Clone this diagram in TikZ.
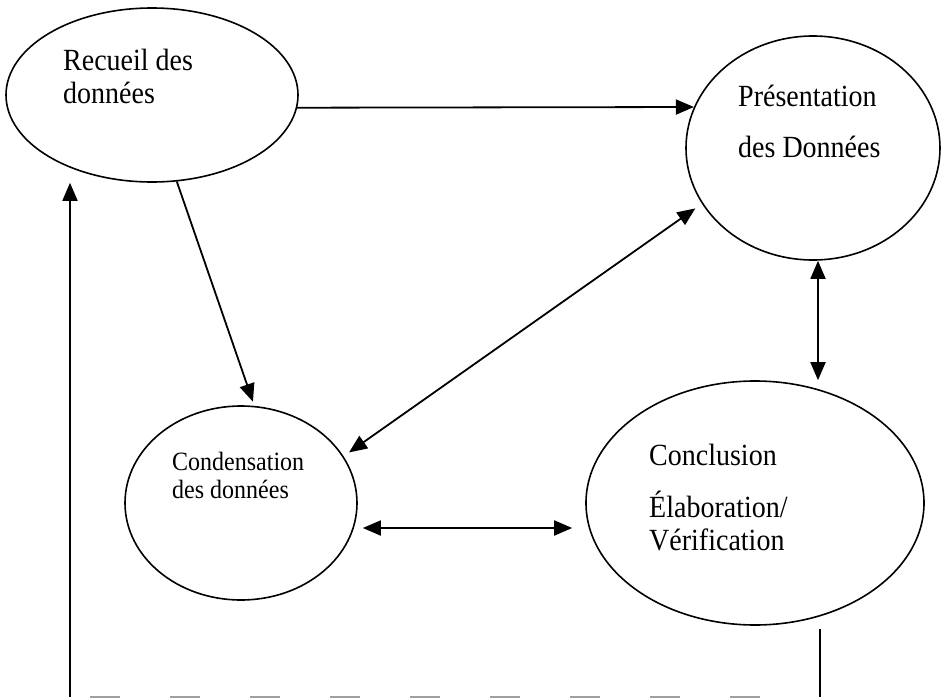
\documentclass[tikz,border=0pt]{standalone}
\usepackage{fontspec}
\setmainfont{Liberation Serif}
\usetikzlibrary{shapes.geometric,arrows.meta}
\newcommand{\tallt}[1]{\scalebox{1}[1.1]{#1}}
\tikzset{
  bubble/.style={ellipse, draw, line width=1.6pt, inner sep=0pt},
  txt/.style={anchor=base west, inner sep=0pt, font=\fontsize{28}{33}\selectfont},
  smalltxt/.style={anchor=base west, inner sep=0pt, font=\fontsize{24}{28}\selectfont},
  arr/.style={line width=1.8pt, -{Triangle[length=18pt,width=15pt]}},
  darr/.style={line width=1.8pt, {Triangle[length=18pt,width=15pt]}-{Triangle[length=18pt,width=15pt]}},
  plain/.style={line width=1.8pt},
  brokenline/.style={line width=2.2pt, gray!75, dash pattern=on 30pt off 50pt}
}
\begin{document}
\begin{tikzpicture}[x=1pt,y=-1pt]
\useasboundingbox (0,0) rectangle (943,699);
% ellipses
\node[bubble, minimum width=292pt, minimum height=174pt] (rec) at (152,95) {};
\node[bubble, minimum width=254pt, minimum height=224pt] (pres) at (813,148) {};
\node[bubble, minimum width=232pt, minimum height=194pt] (cond) at (241,503) {};
\node[bubble, minimum width=338pt, minimum height=244pt] (concl) at (755,503) {};
% texts
\node[txt] (t1) at (63,70) {\tallt{Recueil des}};
\node[txt] (t2) at (63,103) {\tallt{données}};
\node[txt] (t3) at (738,106) {\tallt{Présentation}};
\node[txt] (t4) at (738,157) {\tallt{des Données}};
\node[smalltxt] (t5) at (172,470) {\tallt{Condensation}};
\node[smalltxt] (t6) at (172,498) {\tallt{des données}};
\node[txt] (t7) at (649,465) {\tallt{Conclusion}};
\node[txt] (t8) at (649,517) {\tallt{Élaboration/}};
\node[txt] (t9) at (649,550) {\tallt{Vérification}};
% connectors
\draw[arr] (rec.-5) -- (pres.161);
\draw[arr] (rec.-74) -- ([yshift=4pt]cond.83);
\draw[darr] ([xshift=-7pt,yshift=-4pt]pres.207) -- ([xshift=6pt,yshift=3pt]cond.25);
\coordinate (pv) at ([xshift=5pt]pres.south);
\draw[darr] (pv) -- (pv |- concl.north);
\draw[darr] ([xshift=5pt,yshift=-25pt]cond.east) -- ([xshift=-13pt,yshift=-25pt]concl.west);
% feedback loop
\coordinate (fbR) at (820,697);
\coordinate (fbL) at (70,697);
\draw[plain] ([yshift=-3pt]concl.south -| fbR) -- (fbR);
\draw[brokenline] ([xshift=20pt]fbL) -- ([xshift=-30pt]fbR);
\draw[arr] (fbL) -- (fbL |- rec.south);
\end{tikzpicture}
\end{document}
